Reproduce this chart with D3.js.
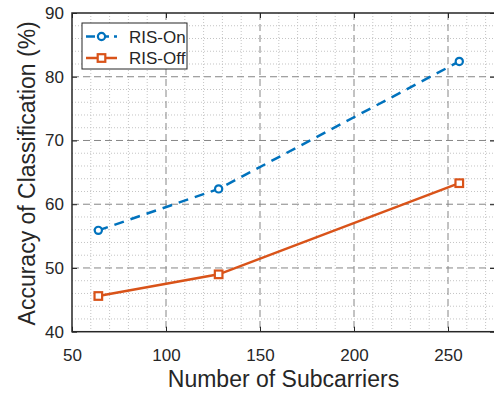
<!DOCTYPE html>
<html>
<head>
<meta charset="utf-8">
<script src="https://cdn.jsdelivr.net/npm/d3@7"></script>
<style>
  html, body { margin: 0; padding: 0; background: #fff; }
  svg { display: block; font-family: "Liberation Sans", Arial, sans-serif; }
  .tick text { fill: #262626; font-size: 17px; }
  .axis path { display: none; }
  .axis line { stroke: #262626; stroke-width: 1; }
  .grid-major line { stroke: #868686; stroke-width: 1; stroke-dasharray: 7 4; }
  .grid-minor line { stroke: #c4c4c4; stroke-width: 1; stroke-dasharray: 1 2; }
</style>
</head>
<body>
<svg id="chart" width="494" height="395"></svg>
<script>
const subcarriers = [64, 128, 256];
const risOn = [55.9, 62.4, 82.4];
const risOff = [45.6, 49.0, 63.3];
const xTicks = [50, 100, 150, 200, 250];
const yTicks = [40, 50, 60, 70, 80, 90];
const seriesNames = ['RIS-On', 'RIS-Off'];

const W = 494, H = 395;
const margin = { top: 13, right: -1, bottom: 63.3, left: 72 };
const innerW = W - margin.left - margin.right;
const innerH = H - margin.top - margin.bottom;

const blue = '#0072BD';
const orange = '#D95319';
const ink = '#262626';

const svg = d3.select('#chart');
const g = svg.append('g').attr('transform', `translate(${margin.left},${margin.top})`);

const x = d3.scaleLinear().domain([50, 275]).range([0, innerW]);
const y = d3.scaleLinear().domain([40, 90]).range([innerH, 0]);

// minor grid
const xMinor = d3.range(60, 275, 10).filter(v => v % 50 !== 0);
const yMinor = d3.range(42, 90, 2).filter(v => v % 10 !== 0);
const minor = g.append('g').attr('class', 'grid-minor');
minor.selectAll('.vx').data(xMinor).enter().append('line')
  .attr('x1', d => x(d)).attr('x2', d => x(d)).attr('y1', 0).attr('y2', innerH);
minor.selectAll('.hy').data(yMinor).enter().append('line')
  .attr('y1', d => y(d)).attr('y2', d => y(d)).attr('x1', 0).attr('x2', innerW);

// major grid
const major = g.append('g').attr('class', 'grid-major');
major.selectAll('.vx').data(xTicks.slice(1)).enter().append('line')
  .attr('x1', d => x(d)).attr('x2', d => x(d)).attr('y1', 0).attr('y2', innerH);
major.selectAll('.hy').data(yTicks.slice(1, -1)).enter().append('line')
  .attr('y1', d => y(d)).attr('y2', d => y(d)).attr('x1', 0).attr('x2', innerW);

// axes
g.append('g').attr('class', 'axis')
  .attr('transform', `translate(0,${innerH})`)
  .call(d3.axisBottom(x).tickValues(xTicks).tickSize(-5).tickPadding(17));
g.append('g').attr('class', 'axis')
  .call(d3.axisLeft(y).tickValues(yTicks).tickSize(-5).tickPadding(8));
g.append('g').attr('class', 'axis')
  .call(d3.axisTop(x).tickValues(xTicks).tickSize(-5).tickFormat(() => ''));
g.append('g').attr('class', 'axis')
  .attr('transform', `translate(${innerW},0)`)
  .call(d3.axisRight(y).tickValues(yTicks).tickSize(-5).tickFormat(() => ''));

// box
g.append('rect')
  .attr('width', innerW).attr('height', innerH)
  .attr('fill', 'none').attr('stroke', ink).attr('stroke-width', 1.5);

// lines
const line = d3.line().x(d => x(d[0])).y(d => y(d[1]));
const onPts = subcarriers.map((s, i) => [s, risOn[i]]);
const offPts = subcarriers.map((s, i) => [s, risOff[i]]);

g.append('path').datum(offPts).attr('d', line)
  .attr('fill', 'none').attr('stroke', orange).attr('stroke-width', 2.5);
g.append('path').datum(onPts).attr('d', line)
  .attr('fill', 'none').attr('stroke', blue).attr('stroke-width', 2.5)
  .attr('stroke-dasharray', '10 7');

g.selectAll('.mo').data(onPts).enter().append('circle')
  .attr('cx', d => x(d[0])).attr('cy', d => y(d[1])).attr('r', 3.6)
  .attr('fill', '#fff').attr('stroke', blue).attr('stroke-width', 2.2);
g.selectAll('.ms').data(offPts).enter().append('rect')
  .attr('x', d => x(d[0]) - 3.8).attr('y', d => y(d[1]) - 3.8)
  .attr('width', 7.6).attr('height', 7.6)
  .attr('fill', '#fff').attr('stroke', orange).attr('stroke-width', 2.2);

// axis labels
svg.append('text')
  .attr('x', margin.left + (x(162.5)))
  .attr('y', 387)
  .attr('text-anchor', 'middle')
  .attr('fill', ink).attr('font-size', 23)
  .text('Number of Subcarriers');
svg.append('text')
  .attr('transform', `translate(35,${margin.top + innerH / 2 + 1}) rotate(-90)`)
  .attr('text-anchor', 'middle')
  .attr('fill', ink).attr('font-size', 23)
  .text('Accuracy of Classification (%)');

// legend
const leg = svg.append('g').attr('transform', 'translate(82,23)');
leg.append('rect').attr('width', 105).attr('height', 46)
  .attr('fill', '#fff').attr('stroke', ink).attr('stroke-width', 1);
const entries = [
  { name: seriesNames[0], color: blue, dash: '9 5', marker: 'circle' },
  { name: seriesNames[1], color: orange, dash: null, marker: 'square' }
];
entries.forEach((e, i) => {
  const cy = 13.5 + i * 21.5;
  leg.append('line').attr('x1', 4).attr('x2', 35).attr('y1', cy).attr('y2', cy)
    .attr('stroke', e.color).attr('stroke-width', 2.5)
    .attr('stroke-dasharray', e.dash);
  if (e.marker === 'circle') {
    leg.append('circle').attr('cx', 19.5).attr('cy', cy).attr('r', 3.6)
      .attr('fill', '#fff').attr('stroke', e.color).attr('stroke-width', 2.2);
  } else {
    leg.append('rect').attr('x', 15.7).attr('y', cy - 3.8).attr('width', 7.6).attr('height', 7.6)
      .attr('fill', '#fff').attr('stroke', e.color).attr('stroke-width', 2.2);
  }
  leg.append('text').attr('x', 47).attr('y', cy).attr('dy', '0.36em')
    .attr('fill', ink).attr('font-size', 17).text(e.name);
});
</script>
</body>
</html>
